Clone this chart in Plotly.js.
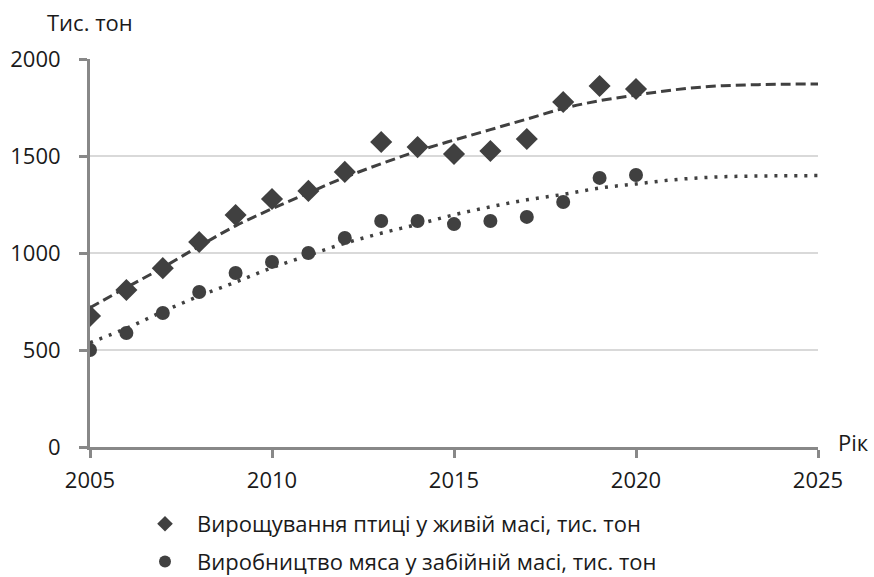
<!DOCTYPE html>
<html><head><meta charset="utf-8">
<script src="https://cdn.plot.ly/plotly-3.0.1.min.js"></script>
<style>body{margin:0;background:#fff}#chart{width:874px;height:577px}</style>
</head><body><div id="chart"></div>
<script>
const years = [2005,2006,2007,2008,2009,2010,2011,2012,2013,2014,2015,2016,2017,2018,2019,2020];
const liveWeight = [675,809,922,1057,1196,1278,1320,1418,1572,1546,1510,1526,1588,1778,1861,1845];
const slaughterWeight = [500,588,691,799,897,954,1000,1077,1165,1165,1149,1165,1186,1263,1387,1402];
const trendYears = [2005,2006,2007,2008,2009,2010,2011,2012,2013,2014,2015,2016,2017,2018,2019,2020,2021,2022,2023,2024,2025];
const liveTrend = [718,822,925,1035,1140,1228,1310,1390,1460,1525,1582,1636,1690,1745,1785,1814,1840,1858,1866,1870,1871];
const slaughterTrend = [538,612,698,778,850,924,988,1050,1102,1148,1197,1238,1274,1302,1335,1356,1377,1390,1396,1398,1399];
const nameLive = 'Вирощування птиці у живій масі, тис. тон';
const nameSlaughter = 'Виробництво мяса у забійній масі, тис. тон';
const xTicks = [2005,2010,2015,2020,2025];
const yTicks = [0,500,1000,1500,2000];

const mk = '#404040';
const data = [
  {x:trendYears, y:liveTrend, mode:'lines', line:{color:mk,width:3,dash:'10px,5px',shape:'spline'}, showlegend:false, hoverinfo:'skip'},
  {x:trendYears, y:slaughterTrend, mode:'lines', line:{color:mk,width:3.5,dash:'3px,7px',shape:'spline'}, showlegend:false, hoverinfo:'skip'},
  {x:years, y:liveWeight, mode:'markers', name:nameLive, legendgroup:'a', marker:{symbol:'diamond',size:17,color:mk}},
  {x:years, y:slaughterWeight, mode:'markers', name:nameSlaughter, legendgroup:'b', marker:{symbol:'circle',size:14,color:mk}}
];
const layout = {
  width:874, height:577,
  margin:{l:90,r:56,t:59,b:130,autoexpand:false},
  paper_bgcolor:'#fff', plot_bgcolor:'#fff',
  font:{family:'Open Sans, Liberation Sans, sans-serif', size:22, color:'#1a1a1a'},
  xaxis:{range:[2005,2025], tickvals:xTicks, tickangle:0, showgrid:false, zeroline:false, automargin:false,
    showline:true, linecolor:'#888', linewidth:3, ticks:'outside', ticklen:8, tickwidth:3, tickcolor:'#888',
    ticklabelstandoff:4, tickfont:{size:22}},
  yaxis:{range:[0,2000], tickvals:yTicks, showgrid:true, gridcolor:'#d9d9d9', gridwidth:1.5, zeroline:false, automargin:false,
    showline:true, linecolor:'#888', linewidth:3, ticks:'outside', ticklen:8, tickwidth:3, tickcolor:'#888',
    ticklabelstandoff:14, tickfont:{size:22}},
  legend:{xref:'container', yref:'container', x:133/874, y:1-503/577, xanchor:'left', yanchor:'top', orientation:'v',
    font:{size:22}, tracegroupgap:6, itemwidth:54, itemsizing:'constant', bgcolor:'rgba(0,0,0,0)'},
  annotations:[
    {text:'Тис. тон', xref:'paper', yref:'paper', x:-45/728, y:1+(59-22)/388, xanchor:'left', yanchor:'middle', showarrow:false, font:{size:22}},
    {text:'Рік', xref:'paper', yref:'paper', x:1+(836-818)/728, y:(447-442)/388, xanchor:'left', yanchor:'middle', showarrow:false, font:{size:22}}
  ],
  showlegend:true
};
Plotly.newPlot('chart', data, layout, {displayModeBar:false, staticPlot:true});
</script></body></html>
